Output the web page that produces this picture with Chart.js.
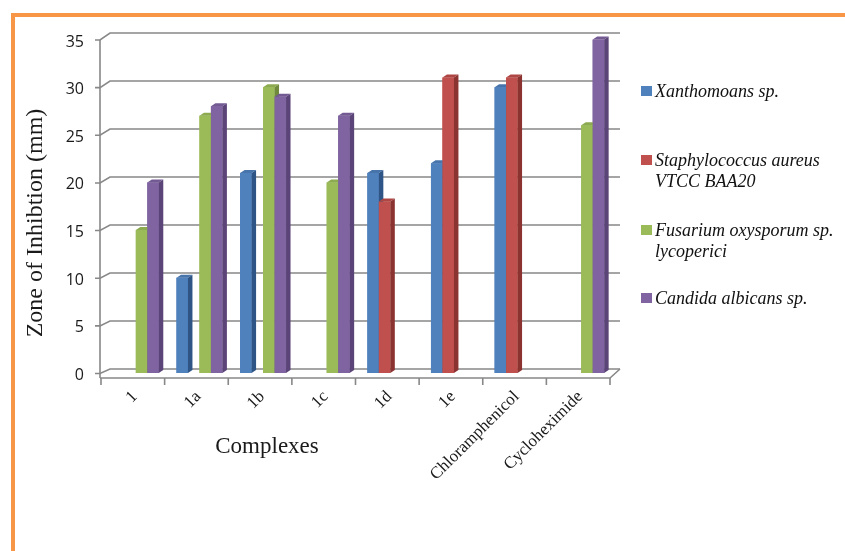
<!DOCTYPE html>
<html>
<head>
<meta charset="utf-8">
<title>Zone of Inhibition</title>
<script src="https://cdn.jsdelivr.net/npm/chart.js@4.4.1/dist/chart.umd.min.js"></script>
<style>
  body { margin: 0; background: #fff; }
  #wrap { width: 845px; height: 551px; position: relative; }
</style>
</head>
<body>
<div id="wrap"><canvas id="chart"></canvas></div>
<script>
// values (null = no bar)
const categories = ["1", "1a", "1b", "1c", "1d", "1e", "Chloramphenicol", "Cycloheximide"];
const xanthomonas = [null, 10, 21, null, 21, 22, 30, null];
const staphylococcus = [null, null, null, null, 18, 31, 31, null];
const fusarium = [15, 27, 30, 20, null, null, null, 26];
const candida = [20, 28, 29, 27, null, null, null, 35];
const yTicks = [0, 5, 10, 15, 20, 25, 30, 35];
const seriesNames = [
  ["Xanthomoans sp."],
  ["Staphylococcus aureus", "VTCC BAA20"],
  ["Fusarium oxysporum sp.", "lycoperici"],
  ["Candida albicans sp."]
];

// front / top / side colours for the fake 3d look
const colors = [
  { front: "#4F81BD", top: "#4774AB", side: "#2F5486" },
  { front: "#C0504D", top: "#AE4744", side: "#8B3330" },
  { front: "#9BBB59", top: "#8CAA4F", side: "#6F8A3A" },
  { front: "#8064A2", top: "#735A93", side: "#5B4478" }
];
const legendY = [91, 160, 230, 298];

const serif = "'Liberation Serif', 'Times New Roman', serif";

const threeD = {
  id: "threeD",
  beforeDatasetsDraw(chart) {
    const ctx = chart.ctx;
    const a = chart.chartArea;
    const y = chart.scales.y;
    const x = chart.scales.x;
    const frontX = a.left - 4;
    const backX = a.left + 6;
    ctx.save();
    ctx.strokeStyle = "#888888";
    ctx.lineWidth = 1.6;

    // back wall gridlines with the little slanted bit at the left
    yTicks.forEach(v => {
      const p = y.getPixelForValue(v);
      const fy = p + 0.5;
      const by = p - 4 - 2.5 * v / 35;
      ctx.beginPath();
      ctx.moveTo(frontX - 5, fy);
      ctx.lineTo(frontX, fy);
      ctx.lineTo(backX, by);
      ctx.lineTo(a.right + 7, by);
      ctx.stroke();
    });

    // front vertical axis
    const floorY = y.getPixelForValue(0) + 5;
    ctx.beginPath();
    ctx.moveTo(frontX, y.getPixelForValue(35) + 0.5);
    ctx.lineTo(frontX, floorY);
    ctx.stroke();

    // floor front edge + right corner
    const cw = (a.right - a.left) / categories.length;
    const frontRight = a.left - 3 + cw * categories.length;
    ctx.beginPath();
    ctx.moveTo(frontX, floorY);
    ctx.lineTo(frontRight, floorY);
    ctx.lineTo(a.right + 7, y.getPixelForValue(0) - 4);
    ctx.stroke();

    // category tick marks on the front edge
    for (let i = 0; i <= categories.length; i++) {
      const tx = a.left - 3 + cw * i;
      ctx.beginPath();
      ctx.moveTo(tx, floorY);
      ctx.lineTo(tx, floorY + 7);
      ctx.stroke();
    }

    // y tick labels
    ctx.fillStyle = "#1a1a1a";
    ctx.font = "16px 'Open Sans', sans-serif";
    ctx.textAlign = "right";
    ctx.textBaseline = "middle";
    yTicks.forEach(v => {
      ctx.fillText(String(v), 84, y.getPixelForValue(v) + 2.5);
    });

    // x labels, rotated 45 deg
    ctx.font = "17px " + serif;
    categories.forEach((c, i) => {
      const px = x.getPixelForValue(i);
      ctx.save();
      ctx.translate(px - 1, floorY + 16);
      ctx.rotate(-Math.PI / 4);
      ctx.textAlign = "right";
      ctx.fillText(c, 0, 0);
      ctx.restore();
    });

    // axis titles
    ctx.font = "23px " + serif;
    ctx.textAlign = "center";
    ctx.fillText("Complexes", 267, 447);
    ctx.save();
    ctx.translate(36, 223);
    ctx.rotate(-Math.PI / 2);
    ctx.font = "24px " + serif;
    ctx.fillText("Zone of Inhibtion (mm)", 0, 0);
    ctx.restore();

    ctx.restore();
  },
  afterDatasetsDraw(chart) {
    const ctx = chart.ctx;
    const d = 4.5;   // depth to the right
    const dy = 3;    // depth upwards
    ctx.save();
    // go category by category so the next bar hides the side of the previous one
    for (let i = 0; i < categories.length; i++) {
      chart.data.datasets.forEach((ds, k) => {
        if (ds.data[i] == null) return;
        const bar = chart.getDatasetMeta(k).data[i];
        const { x, y, width, base } = bar.getProps(["x", "y", "width", "base"], true);
        const l = x - width / 2;
        const r = x + width / 2;
        ctx.fillStyle = colors[k].front;
        ctx.fillRect(l, y, width, base - y);
        ctx.fillStyle = colors[k].top;
        ctx.beginPath();
        ctx.moveTo(l, y);
        ctx.lineTo(l + d, y - dy);
        ctx.lineTo(r + d, y - dy);
        ctx.lineTo(r, y);
        ctx.closePath();
        ctx.fill();
        ctx.fillStyle = colors[k].side;
        ctx.beginPath();
        ctx.moveTo(r, y);
        ctx.lineTo(r + d, y - dy);
        ctx.lineTo(r + d, base - dy);
        ctx.lineTo(r, base);
        ctx.closePath();
        ctx.fill();
      });
    }
    ctx.restore();
  },
  afterDraw(chart) {
    const ctx = chart.ctx;
    ctx.save();
    // legend on the right
    ctx.font = "italic 18px " + serif;
    ctx.textAlign = "left";
    ctx.textBaseline = "middle";
    seriesNames.forEach((lines, k) => {
      const cy = legendY[k];
      ctx.fillStyle = colors[k].front;
      ctx.fillRect(641, cy - 5, 11, 10);
      ctx.fillStyle = "#111";
      lines.forEach((t, j) => ctx.fillText(t, 655, cy + 1 + j * 21));
    });
    // orange frame, runs off the right and bottom
    ctx.strokeStyle = "#F79646";
    ctx.lineWidth = 4;
    ctx.strokeRect(13, 15, 900, 600);
    ctx.restore();
  }
};

const config = {
  type: "bar",
  data: {
    labels: categories,
    datasets: [
      { label: seriesNames[0].join(" "), data: xanthomonas, backgroundColor: colors[0].front },
      { label: seriesNames[1].join(" "), data: staphylococcus, backgroundColor: colors[1].front },
      { label: seriesNames[2].join(" "), data: fusarium, backgroundColor: colors[2].front },
      { label: seriesNames[3].join(" "), data: candida, backgroundColor: colors[3].front }
    ]
  },
  options: {
    responsive: true,
    maintainAspectRatio: false,
    animation: false,
    devicePixelRatio: 1,
    categoryPercentage: 0.722,
    barPercentage: 1,
    layout: { padding: { left: 104, right: 232, top: 39.5, bottom: 178 } },
    scales: {
      x: { display: false },
      y: { display: false, min: 0, max: 35 }
    },
    plugins: {
      legend: { display: false },
      tooltip: { enabled: false }
    }
  },
  plugins: [threeD]
};

const myChart = new Chart(document.getElementById("chart"), config);
</script>
</body>
</html>
